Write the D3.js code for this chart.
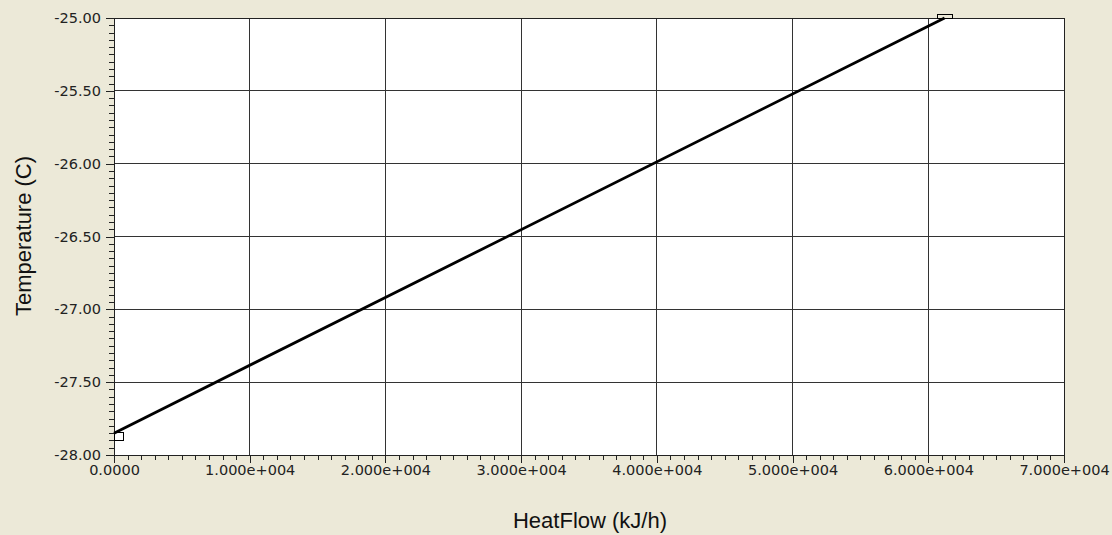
<!DOCTYPE html>
<html>
<head>
<meta charset="utf-8">
<script src="https://cdn.jsdelivr.net/npm/d3@7"></script>
<style>
  html, body { margin: 0; padding: 0; background: #ece9d8; }
  svg { display: block; }
  .tick text { font-family: "DejaVu Sans", Verdana, sans-serif; font-size: 14.5px; fill: #222; }
</style>
</head>
<body>
<svg id="chart" width="1112" height="535"></svg>
<script>
// heat curve values
const heatFlow = [0, 61200];
const temperature = [-27.85, -25.00];

const xTicks = [0, 10000, 20000, 30000, 40000, 50000, 60000, 70000];
const xTickLabels = ['0.0000', '1.000e+004', '2.000e+004', '3.000e+004', '4.000e+004', '5.000e+004', '6.000e+004', '7.000e+004'];
const yTicks = [-28, -27.5, -27, -26.5, -26, -25.5, -25];
const yTickLabels = ['-28.00', '-27.50', '-27.00', '-26.50', '-26.00', '-25.50', '-25.00'];

const W = 1112, H = 535;
const margin = { left: 114, right: 48, top: 18, bottom: 80 };
const innerW = W - margin.left - margin.right;
const innerH = H - margin.top - margin.bottom;

const svg = d3.select('#chart');
const g = svg.append('g').attr('transform', `translate(${margin.left},${margin.top})`);

const x = d3.scaleLinear().domain([0, 70000]).range([0, innerW]);
const y = d3.scaleLinear().domain([-28, -25]).range([innerH, 0]);

// plot background
g.append('rect').attr('width', innerW).attr('height', innerH).attr('fill', '#fff');

// grid
g.append('g').selectAll('line.gx').data(xTicks.slice(1, -1)).join('line')
  .attr('x1', d => x(d)).attr('x2', d => x(d)).attr('y1', 0).attr('y2', innerH)
  .attr('stroke', '#333').attr('shape-rendering', 'crispEdges');
g.append('g').selectAll('line.gy').data(yTicks.slice(1, -1)).join('line')
  .attr('y1', d => y(d)).attr('y2', d => y(d)).attr('x1', 0).attr('x2', innerW)
  .attr('stroke', '#333').attr('shape-rendering', 'crispEdges');

// minor ticks (10 per major step)
const xMinor = d3.range(0, 70001, 1000);
const yMinor = d3.range(0, 61).map(i => -28 + i * 0.05);
g.append('g').attr('transform', `translate(0,${innerH})`)
  .call(d3.axisBottom(x).tickValues(xMinor).tickSize(5).tickFormat(''))
  .call(s => s.select('.domain').remove())
  .call(s => s.selectAll('line').attr('stroke', '#222').attr('shape-rendering', 'crispEdges'));
g.append('g')
  .call(d3.axisLeft(y).tickValues(yMinor).tickSize(5).tickFormat(''))
  .call(s => s.select('.domain').remove())
  .call(s => s.selectAll('line').attr('stroke', '#222').attr('shape-rendering', 'crispEdges'));

// major axes
g.append('g').attr('transform', `translate(0,${innerH})`)
  .call(d3.axisBottom(x).tickValues(xTicks).tickSize(8).tickPadding(2)
    .tickFormat((d, i) => xTickLabels[i]))
  .call(s => s.select('.domain').remove())
  .call(s => s.selectAll('line').attr('stroke', '#222').attr('shape-rendering', 'crispEdges'));
g.append('g')
  .call(d3.axisLeft(y).tickValues(yTicks).tickSize(8).tickPadding(5)
    .tickFormat((d, i) => yTickLabels[i]))
  .call(s => s.select('.domain').remove())
  .call(s => s.selectAll('line').attr('stroke', '#222').attr('shape-rendering', 'crispEdges'));

// frame
g.append('rect').attr('width', innerW).attr('height', innerH)
  .attr('fill', 'none').attr('stroke', '#222').attr('shape-rendering', 'crispEdges');

// curve
const pts = heatFlow.map((v, i) => [v, temperature[i]]);
g.append('path').datum(pts)
  .attr('d', d3.line().x(d => x(d[0])).y(d => y(d[1])))
  .attr('fill', 'none').attr('stroke', '#000').attr('stroke-width', 2.8);

// end-point markers
g.append('rect').attr('x', x(pts[0][0])).attr('y', y(pts[0][1]) - 1)
  .attr('width', 9).attr('height', 8)
  .attr('fill', 'none').attr('stroke', '#000').attr('shape-rendering', 'crispEdges');
g.append('rect').attr('x', x(pts[1][0]) - 7).attr('y', y(pts[1][1]) - 4)
  .attr('width', 15).attr('height', 4)
  .attr('fill', 'none').attr('stroke', '#000').attr('shape-rendering', 'crispEdges');

// axis titles
svg.append('text').attr('x', 590).attr('y', 528)
  .attr('text-anchor', 'middle')
  .attr('font-family', '"Liberation Sans", Arial, sans-serif').attr('font-size', 22).attr('fill', '#111')
  .text('HeatFlow (kJ/h)');
svg.append('text').attr('transform', 'translate(31,236) rotate(-90)')
  .attr('text-anchor', 'middle')
  .attr('font-family', '"Liberation Sans", Arial, sans-serif').attr('font-size', 22).attr('fill', '#111')
  .text('Temperature (C)');
</script>
</body>
</html>
